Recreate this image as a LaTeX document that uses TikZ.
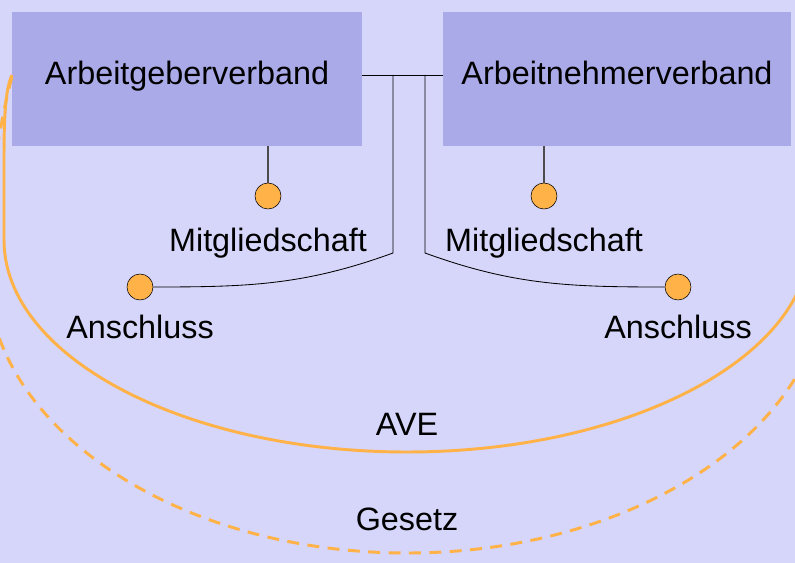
\documentclass[tikz,border=0pt]{standalone}
\usepackage{fontspec}
\setmainfont{Liberation Sans}
\usepackage{tikz}
\usetikzlibrary{positioning,calc}
\definecolor{bgBlue}{RGB}{214,214,251}
\definecolor{boxBlue}{RGB}{170,170,232}
\definecolor{aveOrange}{RGB}{255,178,72}
\tikzset{
    verband/.style={
    ,   rectangle
    ,   fill=boxBlue
    ,   draw=none
    ,   minimum height=3.35cm
    ,   text height=1em
    ,   text depth=0.25em
    ,   text = black
    },
    member/.style={
    ,   circle
    ,   fill=aveOrange
    ,   draw=black
    ,   thin
    ,   minimum size=0.65cm
    ,   inner sep=0pt
    },
    memberLabel/.style={
    ,   text = black
    ,   inner sep=0pt
    },
    aveLine/.style={
    ,   draw=aveOrange
    ,   line width=2.1pt
    },
    gesetzLine/.style={
    ,   aveLine
    ,   dash pattern=on 8.5pt off 6pt
    },
}

\begin{document}
\begin{tikzpicture}[x=0.025cm,y=-0.025cm
				,font={\fontsize{23pt}{27pt}\selectfont}
				,node distance=0.3cm]
		\fill[bgBlue] (0,0) rectangle (795,563);
		\useasboundingbox (0,0) rectangle (795,563);
		\clip (0,0) rectangle (795,563);

		% the two federations
		\node[verband, minimum width=8.75cm] (geber) at (187,79) {Arbeitgeberverband};
		\node[verband, minimum width=8.7cm] (nehmer) at (617,79) {Arbeitnehmerverband};

		% membership and affiliation points
		\node[member] (mitL) at (268,196) {};
		\node[member] (mitR) at (544,196) {};
		\node[member] (ansL) at (140,287) {};
		\node[member] (ansR) at (678,287) {};
		\foreach \p in {mitL,mitR}{
			\node[memberLabel, below=0.45cm of \p] (\p txt) {Mitgliedschaft};
		}
		\foreach \p in {ansL,ansR}{
			\node[memberLabel, below=0.37cm of \p] (\p txt) {Anschluss};
		}

		% AVE and law
		\draw[aveLine] (12,75) .. controls (5,90) and (4,120) .. (4,160) -- (4,240)
			.. controls (4,357) and (185,452) .. (407,452)
			.. controls (629,452) and (810,357) .. (810,240) -- (810,160)
			.. controls (810,120) and (809,90) .. (802,75);
		\draw[gesetzLine] (12,77) .. controls (0,120) and (-13,200) .. (-13,270)
			.. controls (-13,426) and (175,553) .. (407,553)
			.. controls (639,553) and (827,426) .. (827,270)
			.. controls (827,200) and (814,120) .. (802,77);
		\node (ave) at (407,424) {AVE};
		\node (gesetz) at (407,519) {Gesetz};

		% connectors
		\coordinate (jL) at (393,75);
		\coordinate (jR) at (425,75);
		\coordinate (kL) at (393,253);
		\coordinate (kR) at (425,253);
		\draw[black, line width=0.6pt] (geber.east |- jL) -- (nehmer.west |- jL);
		\draw[black, line width=0.6pt] (jL) -- (kL) to[out=200,in=0] (ansL);
		\draw[black, line width=0.6pt] (jR) -- (kR) to[out=-20,in=180] (ansR);
		\draw[black!70, line width=1pt] (geber.south -| mitL) -- (mitL);
		\draw[black!70, line width=1pt] (nehmer.south -| mitR) -- (mitR);
\end{tikzpicture}
\end{document}
